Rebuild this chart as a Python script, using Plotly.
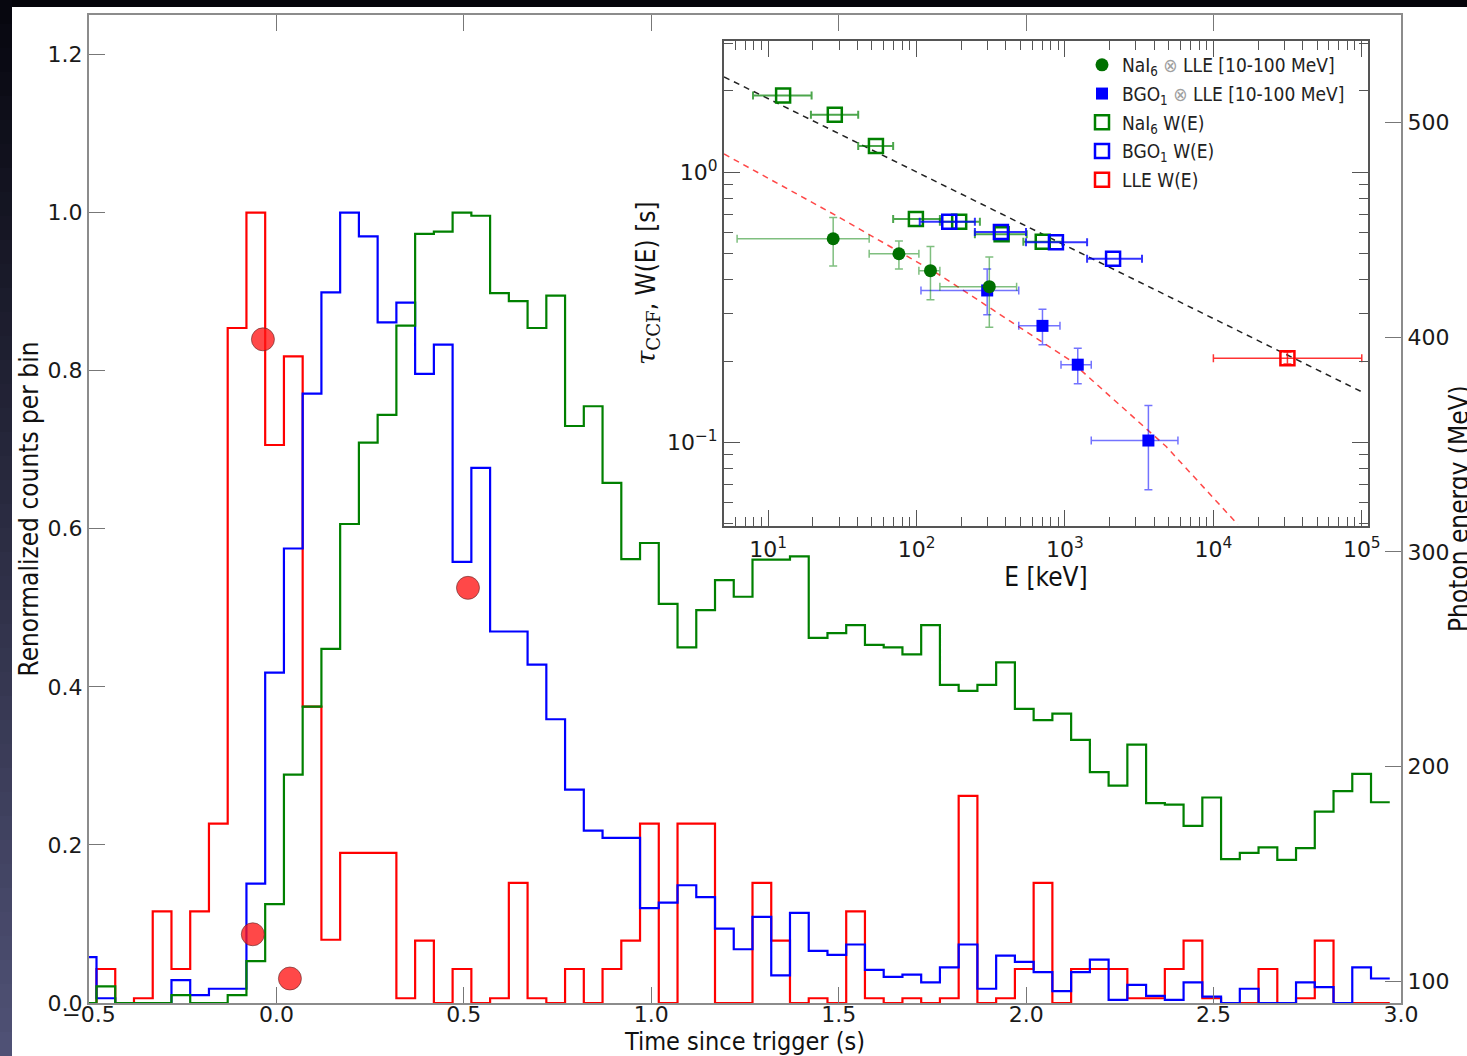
import plotly.graph_objects as go

# ---------------- main panel: light curves (bins of 0.05 s) ----------------
BIN_START = -0.53
BIN_WIDTH = 0.05

LLE_COUNTS = [0.0, 0.043, 0.0, 0.006, 0.116, 0.043, 0.116, 0.227, 0.854, 1.0,
              0.706, 0.818, 0.375, 0.08, 0.19, 0.19, 0.19, 0.006, 0.079, 0.0,
              0.043, 0.0, 0.006, 0.152, 0.006, 0.0, 0.043, 0.0, 0.043, 0.079,
              0.227, 0.0, 0.227, 0.227, 0.0, 0.0, 0.152, 0.079, 0.0, 0.006,
              0.0, 0.116, 0.006, 0.0, 0.006, 0.0, 0.006, 0.262, 0.0, 0.006,
              0.043, 0.152, 0.0, 0.043, 0.043, 0.043, 0.006, 0.006, 0.043, 0.079,
              0.006, 0.0, 0.0, 0.043, 0.0, 0.006, 0.079, 0.0, 0.0, 0.0]

BGO_COUNTS = [0.058, 0.006, 0.0, 0.0, 0.0, 0.029, 0.010, 0.018, 0.018, 0.151,
              0.418, 0.575, 0.771, 0.899, 1.0, 0.97, 0.861, 0.886, 0.796, 0.833,
              0.558, 0.677, 0.47, 0.47, 0.428, 0.359, 0.27, 0.218, 0.209, 0.209,
              0.12, 0.127, 0.149, 0.134, 0.094, 0.068, 0.109, 0.035, 0.114, 0.066,
              0.061, 0.074, 0.042, 0.033, 0.036, 0.026, 0.045, 0.074, 0.018, 0.060,
              0.052, 0.039, 0.015, 0.039, 0.055, 0.004, 0.023, 0.009, 0.004, 0.026,
              0.008, 0.0, 0.018, 0.0, 0.0, 0.026, 0.020, 0.0, 0.045, 0.031]

NAI_COUNTS = [0.0, 0.021, 0.0, 0.0, 0.0, 0.010, 0.0, 0.0, 0.010, 0.053,
              0.125, 0.289, 0.375, 0.448, 0.606, 0.709, 0.744, 0.857, 0.973, 0.976,
              1.0, 0.996, 0.898, 0.888, 0.854, 0.895, 0.730, 0.755, 0.658, 0.5615,
              0.582, 0.505, 0.45, 0.497, 0.535, 0.514, 0.561, 0.561, 0.565, 0.462,
              0.468, 0.478, 0.453, 0.450, 0.441, 0.478, 0.4025, 0.395, 0.4025, 0.431,
              0.372, 0.358, 0.366, 0.333, 0.292, 0.275, 0.327, 0.253, 0.251, 0.224,
              0.26, 0.182, 0.19, 0.197, 0.181, 0.196, 0.242, 0.268, 0.29, 0.254]

# LLE photons: arrival time (s) and energy (MeV)
PHOTON_T = [-0.036, -0.063, 0.036, 0.511]
PHOTON_E = [399, 122, 101.4, 283.3]

X_TICKS = [-0.5, 0.0, 0.5, 1.0, 1.5, 2.0, 2.5, 3.0]
X_TICK_TEXT = ["\u22120.5", "0.0", "0.5", "1.0", "1.5", "2.0", "2.5", "3.0"]
Y_TICKS = [0.0, 0.2, 0.4, 0.6, 0.8, 1.0, 1.2]
Y_TICK_TEXT = ["0.0", "0.2", "0.4", "0.6", "0.8", "1.0", "1.2"]
E_TICKS = [100, 200, 300, 400, 500]

# ---------------- inset: lag / width vs energy ----------------
NAI_X_E = [27.4, 76, 124, 309]
NAI_X_E_LO = [6.17, 47.9, 103.6, 143.5]
NAI_X_E_HI = [47.9, 103.6, 143.5, 472]
NAI_X_TAU = [0.567, 0.499, 0.432, 0.377]
NAI_X_TAU_LO = [0.45, 0.438, 0.337, 0.267]
NAI_X_TAU_HI = [0.679, 0.556, 0.531, 0.485]

BGO_X_E = [299, 705, 1219, 3648]
BGO_X_E_LO = [107, 488, 940, 1503]
BGO_X_E_HI = [488, 925, 1503, 5770]
BGO_X_TAU = [0.365, 0.27, 0.194, 0.1017]
BGO_X_TAU_LO = [0.297, 0.23, 0.165, 0.0669]
BGO_X_TAU_HI = [0.438, 0.311, 0.223, 0.137]

NAI_W_E = [12.6, 28.1, 53.2, 98.9, 193.6, 374, 708]
NAI_W_E_LO = [7.9, 19.4, 40.4, 69.5, 143.5, 247, 524]
NAI_W_E_HI = [19.6, 40.4, 69.5, 143.5, 267, 552, 960]
NAI_W = [1.92, 1.63, 1.25, 0.671, 0.656, 0.589, 0.553]

BGO_W_E = [166, 370, 869, 2109]
BGO_W_E_LO = [105, 247, 546, 1409]
BGO_W_E_HI = [247, 546, 1409, 3304]
BGO_W = [0.656, 0.60, 0.55, 0.478]

LLE_W_E = [31550]
LLE_W_E_LO = [10000]
LLE_W_E_HI = [100000]
LLE_W = [0.205]
LLE_W_LO = [0.195]
LLE_W_HI = [0.216]

# fitted relations
WIDTH_FIT_E = [5.04, 100000]
WIDTH_FIT_TAU = [2.25, 0.154]
LAG_FIT_E = [5.04, 28.1, 136.5, 160.7, 1069, 4808, 14620]
LAG_FIT_TAU = [1.167, 0.695, 0.4227, 0.3994, 0.2023, 0.0966, 0.0497]

E_MAJOR = [10, 100, 1000, 10000, 100000]
E_MAJOR_TEXT = ["10<sup>1</sup>", "10<sup>2</sup>", "10<sup>3</sup>",
                "10<sup>4</sup>", "10<sup>5</sup>"]
T_MAJOR = [0.1, 1]
T_MAJOR_TEXT = ["10<sup>\u22121</sup>", "10<sup>0</sup>"]

# ---------------- styling ----------------
W, H = 1467, 1056
ML, MR, MT, MB = 89, 66, 15, 53
TICK_FONT = dict(family="DejaVu Sans", size=22, color="#1a1a1a")
NARROW = "Liberation Sans Narrow, DejaVu Sans Condensed, Roboto Condensed, Open Sans, sans-serif"
TITLE_FONT = dict(family=NARROW, size=26, color="#111111")
XTITLE_FONT = dict(family=NARROW, size=25, color="#111111")
FRAME = "#8c8c8c"
INSET_FRAME = "#555555"


def px_x(px):
    return (px - ML) / (W - ML - MR)


def px_y(py):
    return (H - MB - py) / (H - MT - MB)


def minus(v, lo):
    return [a - b for a, b in zip(v, lo)]


def plus(v, hi):
    return [b - a for a, b in zip(v, hi)]


fig = go.Figure()

# ---- light-curve step histograms ----
n = len(LLE_COUNTS)
edges = [round(BIN_START + BIN_WIDTH * i, 4) for i in range(n + 1)]
for vals, col in [(LLE_COUNTS, "#ff0000"), (BGO_COUNTS, "#0000ff"), (NAI_COUNTS, "#008000")]:
    fig.add_trace(go.Scatter(
        x=edges, y=list(vals) + [vals[-1]], mode="lines",
        line=dict(color=col, width=2.2, shape="hv"),
        xaxis="x", yaxis="y", showlegend=False, hoverinfo="skip"))

fig.add_trace(go.Scatter(
    x=PHOTON_T, y=PHOTON_E, mode="markers",
    marker=dict(size=23, color="rgba(255,20,20,0.78)",
                line=dict(color="rgba(90,40,40,0.6)", width=1)),
    xaxis="x", yaxis="y2", showlegend=False, hoverinfo="skip"))

# ---- inset ----
fig.add_trace(go.Scatter(
    x=WIDTH_FIT_E, y=WIDTH_FIT_TAU, mode="lines",
    line=dict(color="#222222", width=1.5, dash="6px,5px"),
    xaxis="x2", yaxis="y3", showlegend=False, hoverinfo="skip"))
fig.add_trace(go.Scatter(
    x=LAG_FIT_E, y=LAG_FIT_TAU, mode="lines",
    line=dict(color="rgba(255,40,40,0.85)", width=1.5, dash="6px,5px"),
    xaxis="x2", yaxis="y3", showlegend=False, hoverinfo="skip"))

LEGEND_NAME_NAI_X = "NaI<sub>6</sub> <span style='color:#a0a0a0'>\u2297</span> LLE [10-100 MeV]"
LEGEND_NAME_BGO_X = "BGO<sub>1</sub> <span style='color:#a0a0a0'>\u2297</span> LLE [10-100 MeV]"

fig.add_trace(go.Scatter(
    x=NAI_W_E, y=NAI_W, mode="markers", name="NaI<sub>6</sub> W(E)",
    legendgroup="c", legendrank=3,
    marker=dict(symbol="square-open", size=14, color="#008000", line=dict(width=2.5)),
    error_x=dict(type="data", symmetric=False, array=plus(NAI_W_E, NAI_W_E_HI),
                 arrayminus=minus(NAI_W_E, NAI_W_E_LO), color="rgba(0,128,0,0.7)",
                 thickness=2, width=4),
    xaxis="x2", yaxis="y3"))
fig.add_trace(go.Scatter(
    x=BGO_W_E, y=BGO_W, mode="markers", name="BGO<sub>1</sub> W(E)",
    legendgroup="d", legendrank=4,
    marker=dict(symbol="square-open", size=14, color="#0000ff", line=dict(width=2.5)),
    error_x=dict(type="data", symmetric=False, array=plus(BGO_W_E, BGO_W_E_HI),
                 arrayminus=minus(BGO_W_E, BGO_W_E_LO), color="rgba(0,0,255,0.8)",
                 thickness=2, width=4),
    xaxis="x2", yaxis="y3"))
fig.add_trace(go.Scatter(
    x=LLE_W_E, y=LLE_W, mode="markers", name="LLE W(E)",
    legendgroup="e", legendrank=5,
    marker=dict(symbol="square-open", size=14, color="#ff0000", line=dict(width=2.5)),
    error_x=dict(type="data", symmetric=False, array=plus(LLE_W_E, LLE_W_E_HI),
                 arrayminus=minus(LLE_W_E, LLE_W_E_LO), color="rgba(255,0,0,0.8)",
                 thickness=1.5, width=4),
    error_y=dict(type="data", symmetric=False, array=plus(LLE_W, LLE_W_HI),
                 arrayminus=minus(LLE_W, LLE_W_LO), color="rgba(255,0,0,0.8)",
                 thickness=1.5, width=4),
    xaxis="x2", yaxis="y3"))
fig.add_trace(go.Scatter(
    x=BGO_X_E, y=BGO_X_TAU, mode="markers", name=LEGEND_NAME_BGO_X,
    legendgroup="b", legendrank=2,
    marker=dict(symbol="square", size=12, color="#0000ff", line=dict(width=0)),
    error_x=dict(type="data", symmetric=False, array=plus(BGO_X_E, BGO_X_E_HI),
                 arrayminus=minus(BGO_X_E, BGO_X_E_LO), color="rgba(0,0,255,0.55)",
                 thickness=1.5, width=4),
    error_y=dict(type="data", symmetric=False, array=plus(BGO_X_TAU, BGO_X_TAU_HI),
                 arrayminus=minus(BGO_X_TAU, BGO_X_TAU_LO), color="rgba(0,0,255,0.55)",
                 thickness=1.5, width=4),
    xaxis="x2", yaxis="y3"))
fig.add_trace(go.Scatter(
    x=NAI_X_E, y=NAI_X_TAU, mode="markers", name=LEGEND_NAME_NAI_X,
    legendgroup="a", legendrank=1,
    marker=dict(symbol="circle", size=13, color="#007000", line=dict(width=0)),
    error_x=dict(type="data", symmetric=False, array=plus(NAI_X_E, NAI_X_E_HI),
                 arrayminus=minus(NAI_X_E, NAI_X_E_LO), color="rgba(0,128,0,0.5)",
                 thickness=1.5, width=4),
    error_y=dict(type="data", symmetric=False, array=plus(NAI_X_TAU, NAI_X_TAU_HI),
                 arrayminus=minus(NAI_X_TAU, NAI_X_TAU_LO), color="rgba(0,128,0,0.5)",
                 thickness=1.5, width=4),
    xaxis="x2", yaxis="y3"))

# ---- background decoration (dark slide border) ----
shapes = []
shapes.append(dict(type="rect", xref="paper", yref="paper",
                   x0=px_x(-5), x1=px_x(W + 5), y0=px_y(7), y1=px_y(-5),
                   fillcolor="#04040a", line=dict(width=0), layer="above"))
N_STRIPS = 44
top_c = (6, 6, 14)
bot_c = (80, 82, 118)
for i in range(N_STRIPS):
    f = (i + 0.5) / N_STRIPS
    c = tuple(int(round(top_c[j] + (bot_c[j] - top_c[j]) * f)) for j in range(3))
    y0 = H * i / N_STRIPS
    y1 = H * (i + 1) / N_STRIPS + 1
    shapes.append(dict(type="rect", xref="paper", yref="paper",
                       x0=px_x(-5), x1=px_x(12), y0=px_y(y1), y1=px_y(y0),
                       fillcolor="rgb(%d,%d,%d)" % c, line=dict(width=0), layer="above"))

E_MINOR = [m * 10 ** d for d in range(0, 5) for m in range(2, 10)]
T_MINOR = [m * 10.0 ** d for d in (-2, -1, 0) for m in range(2, 10)]

INSET_X_DOMAIN = [px_x(724), px_x(1368)]
INSET_Y_DOMAIN = [px_y(525.5), px_y(41)]

fig.update_layout(
    width=W, height=H,
    margin=dict(l=ML, r=MR, t=MT, b=MB, pad=0, autoexpand=False),
    paper_bgcolor="white", plot_bgcolor="white",
    shapes=shapes,
    xaxis=dict(domain=[0, 1], anchor="y", range=[-0.5, 3.0], automargin=False,
               tickmode="array", tickvals=X_TICKS, ticktext=X_TICK_TEXT,
               ticks="inside", ticklen=16, tickwidth=1, tickcolor="#777777",
               ticklabelstandoff=-9,
               showline=True, linecolor=FRAME, linewidth=2, mirror="ticks",
               showgrid=False, zeroline=False, tickfont=TICK_FONT,
               title=dict(text="Time since trigger (s)", font=XTITLE_FONT, standoff=3)),
    yaxis=dict(domain=[0, 1], anchor="x", range=[0, 1.25], automargin=False,
               tickmode="array", tickvals=Y_TICKS, ticktext=Y_TICK_TEXT,
               ticks="inside", ticklen=16, tickwidth=1, tickcolor="#777777",
               showline=True, linecolor=FRAME, linewidth=2,
               showgrid=False, zeroline=False, tickfont=TICK_FONT,
               title=dict(text="Renormalized counts per bin", font=TITLE_FONT, standoff=1)),
    yaxis2=dict(overlaying="y", anchor="x", side="right", range=[90, 550], automargin=False,
                tickmode="array", tickvals=E_TICKS,
                ticks="inside", ticklen=16, tickwidth=1, tickcolor="#777777",
                showline=True, linecolor=FRAME, linewidth=2,
                showgrid=False, zeroline=False, tickfont=TICK_FONT),
    xaxis2=dict(type="log", domain=INSET_X_DOMAIN, anchor="y3", range=[0.702, 5.042],
                automargin=False,
                tickmode="array", tickvals=E_MAJOR, ticktext=E_MAJOR_TEXT,
                ticks="inside", ticklen=16, tickwidth=1, tickcolor=INSET_FRAME,
                ticklabelstandoff=3,
                minor=dict(tickmode="array", tickvals=E_MINOR, ticks="inside",
                           ticklen=9, tickwidth=1, tickcolor=INSET_FRAME, showgrid=False),
                showline=True, linecolor=INSET_FRAME, linewidth=2, mirror="ticks",
                showgrid=False, zeroline=False, tickfont=TICK_FONT,
                title=dict(text="E [keV]", font=TITLE_FONT, standoff=6)),
    yaxis3=dict(type="log", domain=INSET_Y_DOMAIN, anchor="x2", range=[-1.307, 0.485],
                automargin=False,
                tickmode="array", tickvals=T_MAJOR, ticktext=T_MAJOR_TEXT,
                ticks="inside", ticklen=16, tickwidth=1, tickcolor=INSET_FRAME,
                minor=dict(tickmode="array", tickvals=T_MINOR, ticks="inside",
                           ticklen=9, tickwidth=1, tickcolor=INSET_FRAME, showgrid=False),
                showline=True, linecolor=INSET_FRAME, linewidth=2, mirror="ticks",
                showgrid=False, zeroline=False, tickfont=TICK_FONT,
                title=dict(text="<span style='font-family:DejaVu Serif'><i>\u03c4</i><sub>CCF</sub></span>, W(E) [s]",
                           font=TITLE_FONT, standoff=4)),
    legend=dict(x=px_x(1082), y=px_y(46), xanchor="left", yanchor="top",
                bgcolor="rgba(0,0,0,0)", borderwidth=0,
                font=dict(family=NARROW, size=19, color="#222222"),
                tracegroupgap=1, itemwidth=30),
    annotations=[dict(text="Photon energy (MeV)", xref="paper", yref="paper",
                      x=px_x(1459), y=0.5, xanchor="center", yanchor="middle",
                      textangle=-90, showarrow=False, font=TITLE_FONT)],
)

fig.write_html("out.html", config={"displayModeBar": False},
               post_script="document.body.style.margin='0';")
